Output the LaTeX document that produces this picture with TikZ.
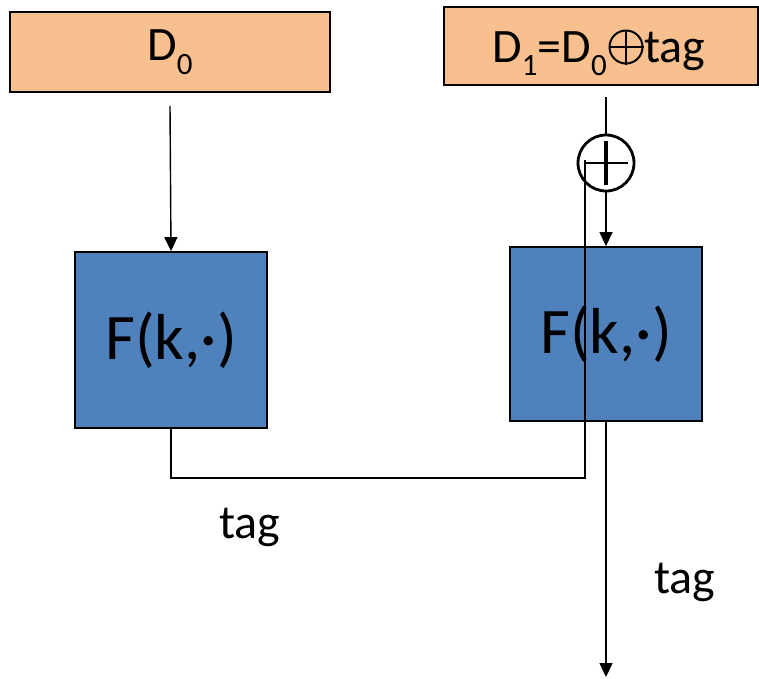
\documentclass[tikz,border=0pt]{standalone}
\usepackage{fontspec}
\setmainfont{Carlito}
\usetikzlibrary{arrows.meta}

\definecolor{dataorange}{HTML}{F9C08F}
\definecolor{prfblue}{HTML}{4F81BD}

% lowered index digit, as in D_0
\newcommand{\lowidx}[1]{\raisebox{-0.28em}{\fontsize{31}{31}\selectfont #1}}

\begin{document}
\begin{tikzpicture}[x=1pt,y=-1pt,
  databox/.style={draw=black, line width=1.6pt, fill=dataorange, minimum width=320pt,
    minimum height=80pt, inner sep=0pt, font=\fontsize{48}{48}\selectfont},
  prfbox/.style={draw=black, line width=1.8pt, fill=prfblue, minimum width=192pt,
    minimum height=176pt, inner sep=0pt, font=\fontsize{65}{65}\selectfont},
  xorc/.style={draw=black, line width=2.8pt, circle, minimum size=56pt, inner sep=0pt},
  xorsmall/.style={draw=black, line width=2pt, circle, minimum size=33pt, inner sep=0pt},
  txt/.style={font=\fontsize{48}{48}\selectfont, inner sep=0pt},
  arr/.style={line width=1.4pt, -{Triangle[length=14pt,width=13pt]}},
  wire/.style={line width=1.2pt},
  lbl/.style={font=\fontsize{48}{48}\selectfont, inner sep=0pt}]

\useasboundingbox (0,0) rectangle (759,678);

% input blocks
\node[databox] (d0) at (170,52) {D\lowidx{0}};
\node[databox, minimum width=314pt, minimum height=78pt] (d1) at (601,46) {};
% label of the second block: D_1 = D_0 (+) tag
\node[txt, anchor=base east] (d1lhs) at (607,62) {D\lowidx{1}=D\lowidx{0}};
\node[xorsmall] (d1op) at (626,47) {};
\draw[line width=2pt] (d1op.north) -- (d1op.south);
\draw[line width=2pt] (d1op.west) -- (d1op.east);
\node[txt, anchor=base west] (d1rhs) at (644,62) {tag};

% PRF blocks
\node[prfbox] (f0) at (171,340) {F(k,·)};
\node[prfbox, minimum height=174pt] (f1) at (606,334) {F(k,·)};

% xor gate
\node[xorc] (xor) at (606,163) {};
\draw[line width=3.4pt] (xor.center) ++(0,-22) -- ++(0,44);
\draw[line width=2.8pt] (xor.center) ++(-21,0) -- ++(43,0);

% data flow
\coordinate (d1out) at (606,97);
\draw[arr] ([yshift=-13pt]d0.south) -- (f0.north);
\draw[line width=1.4pt] (d1out) -- (xor.north);
\draw[arr] (xor.south) -- (f1.north);

% chaining the first tag into the xor
\coordinate (fb) at (585,160);
\draw[wire] (f0.south) -- ++(0,49) -| (fb);

% final output
\coordinate (out) at (606,677);
\draw[arr] (f1.south) -- (out);

% labels
\node[lbl] (tag0) at (250,527) {tag};
\node[lbl] (tag1) at (685,582) {tag};
\end{tikzpicture}
\end{document}
